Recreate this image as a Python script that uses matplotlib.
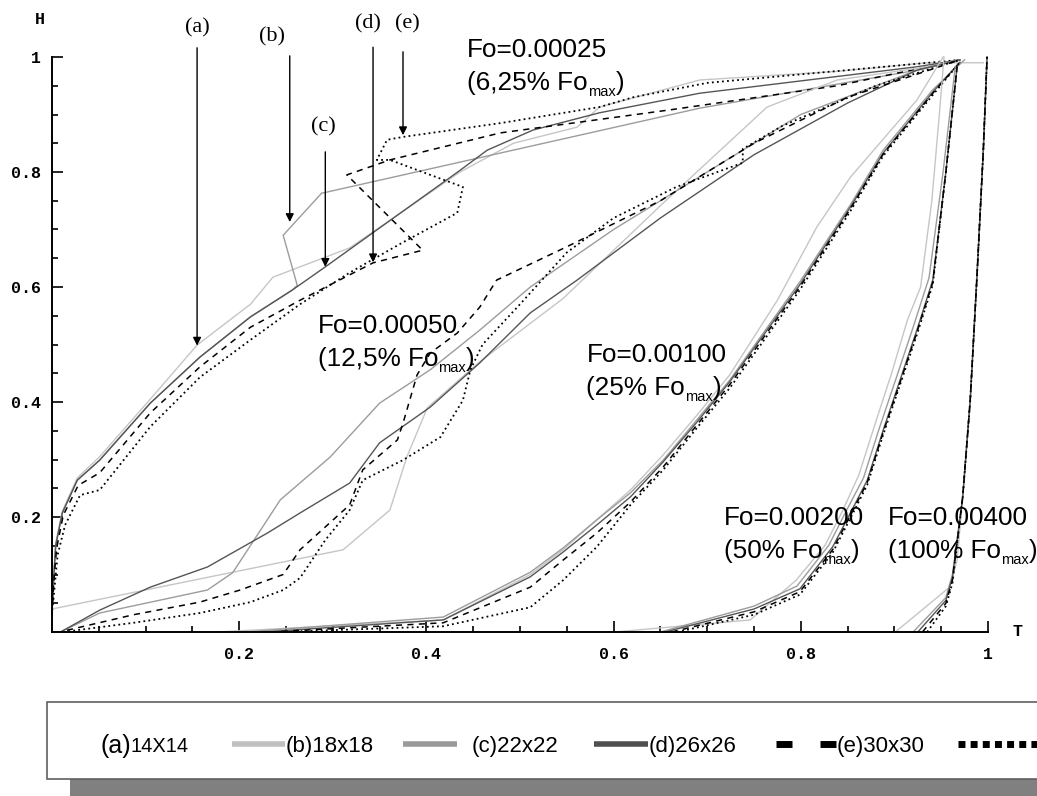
import matplotlib
matplotlib.use("Agg")
import matplotlib.pyplot as plt
from matplotlib.patches import Rectangle

# ---- curves H(T) for each Fourier number, meshes (a)..(e) ----
# Fo = 0.00025
g1_a_t = [0, 0.002, 0.004, 0.011, 0.027, 0.051, 0.105, 0.155, 0.212, 0.236, 0.318, 0.436, 0.493, 0.561, 0.585, 0.692, 0.839, 0.935, 0.995]
g1_a_h = [0.03, 0.10, 0.155, 0.21, 0.268, 0.305, 0.405, 0.499, 0.57, 0.617, 0.668, 0.80, 0.85, 0.878, 0.913, 0.96, 0.975, 0.99, 0.99]
g1_b_t = [0, 0.002, 0.004, 0.011, 0.027, 0.051, 0.105, 0.158, 0.212, 0.257, 0.262, 0.247, 0.288, 0.692, 0.924, 0.97]
g1_b_h = [0.03, 0.099, 0.151, 0.207, 0.264, 0.299, 0.398, 0.478, 0.548, 0.595, 0.603, 0.69, 0.763, 0.911, 0.977, 0.995]
g1_c_t = [0, 0.002, 0.004, 0.011, 0.027, 0.051, 0.105, 0.158, 0.212, 0.257, 0.292, 0.436, 0.465, 0.514, 0.585, 0.692, 0.924, 0.97]
g1_c_h = [0.03, 0.099, 0.151, 0.207, 0.264, 0.299, 0.398, 0.478, 0.548, 0.595, 0.635, 0.803, 0.838, 0.873, 0.903, 0.937, 0.983, 0.995]
g1_d_t = [0, 0.002, 0.005, 0.012, 0.028, 0.051, 0.105, 0.158, 0.212, 0.265, 0.343, 0.396, 0.315, 0.361, 0.479, 0.660, 0.839, 0.97]
g1_d_h = [0.03, 0.09, 0.146, 0.203, 0.255, 0.277, 0.381, 0.461, 0.53, 0.577, 0.642, 0.664, 0.795, 0.821, 0.868, 0.908, 0.95, 0.995]
g1_e_t = [0, 0.003, 0.006, 0.014, 0.030, 0.051, 0.105, 0.158, 0.212, 0.265, 0.318, 0.372, 0.433, 0.439, 0.361, 0.347, 0.358, 0.375, 0.479, 0.585, 0.621, 0.70, 0.97]
g1_e_h = [0.03, 0.082, 0.134, 0.186, 0.238, 0.247, 0.357, 0.443, 0.508, 0.57, 0.625, 0.675, 0.729, 0.774, 0.821, 0.821, 0.856, 0.861, 0.885, 0.913, 0.93, 0.955, 0.995]

# Fo = 0.00050
g2_a_t = [0, 0.311, 0.361, 0.379, 0.401, 0.457, 0.546, 0.653, 0.764, 0.839, 0.935, 0.97]
g2_a_h = [0.04, 0.143, 0.212, 0.304, 0.39, 0.47, 0.58, 0.746, 0.913, 0.96, 0.983, 0.995]
g2_b_t = [0.009, 0.051, 0.166, 0.193, 0.244, 0.297, 0.35, 0.404, 0.457, 0.511, 0.60, 0.70, 0.80, 0.924, 0.97]
g2_b_h = [0, 0.033, 0.073, 0.103, 0.23, 0.304, 0.398, 0.456, 0.525, 0.60, 0.70, 0.80, 0.90, 0.977, 0.995]
g2_c_t = [0.009, 0.051, 0.105, 0.166, 0.230, 0.265, 0.318, 0.350, 0.404, 0.457, 0.511, 0.561, 0.65, 0.75, 0.85, 0.924, 0.97]
g2_c_h = [0, 0.038, 0.078, 0.113, 0.172, 0.207, 0.259, 0.329, 0.391, 0.468, 0.555, 0.612, 0.72, 0.83, 0.92, 0.977, 0.995]
g2_d_t = [0.016, 0.087, 0.158, 0.201, 0.247, 0.265, 0.318, 0.332, 0.369, 0.375, 0.39, 0.404, 0.433, 0.457, 0.475, 0.55, 0.65, 0.75, 0.85, 0.97]
g2_d_h = [0.003, 0.03, 0.052, 0.073, 0.10, 0.143, 0.221, 0.282, 0.334, 0.363, 0.447, 0.485, 0.52, 0.565, 0.612, 0.67, 0.75, 0.85, 0.93, 0.995]
g2_e_t = [0.012, 0.087, 0.158, 0.212, 0.247, 0.265, 0.292, 0.318, 0.332, 0.375, 0.415, 0.439, 0.447, 0.46, 0.50, 0.55, 0.60, 0.667, 0.738, 0.738, 0.78, 0.88, 0.97]
g2_e_h = [0, 0.016, 0.033, 0.052, 0.073, 0.094, 0.16, 0.212, 0.264, 0.299, 0.339, 0.403, 0.456, 0.50, 0.57, 0.66, 0.72, 0.774, 0.816, 0.84, 0.88, 0.95, 0.995]

# Fo = 0.00100
g3_a_t = [0.176, 0.418, 0.511, 0.546, 0.582, 0.618, 0.653, 0.689, 0.724, 0.775, 0.817, 0.853, 0.924, 0.952]
g3_a_h = [0, 0.021, 0.10, 0.143, 0.195, 0.247, 0.308, 0.377, 0.447, 0.577, 0.704, 0.791, 0.925, 1.0]
g3_b_t = [0.206, 0.418, 0.511, 0.546, 0.582, 0.618, 0.653, 0.689, 0.724, 0.799, 0.853, 0.888, 0.941, 0.967, 0.975]
g3_b_h = [0, 0.026, 0.104, 0.146, 0.195, 0.242, 0.299, 0.369, 0.438, 0.609, 0.743, 0.838, 0.943, 0.983, 0.995]
g3_c_t = [0.225, 0.418, 0.511, 0.546, 0.582, 0.618, 0.653, 0.689, 0.724, 0.799, 0.853, 0.888, 0.941, 0.970]
g3_c_h = [0, 0.021, 0.096, 0.139, 0.186, 0.235, 0.296, 0.365, 0.435, 0.604, 0.739, 0.833, 0.939, 0.991]
g3_d_t = [0.233, 0.418, 0.511, 0.546, 0.582, 0.618, 0.653, 0.689, 0.724, 0.799, 0.853, 0.888, 0.941, 0.970]
g3_d_h = [0, 0.016, 0.078, 0.125, 0.172, 0.226, 0.287, 0.360, 0.430, 0.600, 0.736, 0.831, 0.937, 0.991]
g3_e_t = [0.244, 0.418, 0.511, 0.546, 0.582, 0.618, 0.653, 0.689, 0.724, 0.799, 0.853, 0.888, 0.941, 0.970]
g3_e_h = [0, 0.01, 0.043, 0.09, 0.148, 0.221, 0.282, 0.355, 0.424, 0.595, 0.732, 0.828, 0.934, 0.991]

# Fo = 0.00200
g4_a_t = [0.601, 0.746, 0.795, 0.826, 0.845, 0.862, 0.879, 0.897, 0.914, 0.928, 0.940, 0.948, 0.953]
g4_a_h = [0, 0.021, 0.09, 0.151, 0.212, 0.273, 0.36, 0.45, 0.543, 0.60, 0.75, 0.90, 1.0]
g4_b_t = [0.650, 0.750, 0.796, 0.830, 0.849, 0.867, 0.884, 0.902, 0.920, 0.937, 0.952, 0.965]
g4_b_h = [0, 0.045, 0.08, 0.151, 0.212, 0.268, 0.355, 0.442, 0.53, 0.616, 0.80, 0.983]
g4_c_t = [0.655, 0.750, 0.799, 0.834, 0.853, 0.871, 0.888, 0.906, 0.924, 0.941, 0.955, 0.967]
g4_c_h = [0, 0.04, 0.075, 0.148, 0.207, 0.264, 0.351, 0.438, 0.525, 0.612, 0.80, 0.983]
g4_d_t = [0.662, 0.750, 0.799, 0.834, 0.853, 0.871, 0.888, 0.906, 0.924, 0.941, 0.955, 0.967]
g4_d_h = [0, 0.035, 0.070, 0.143, 0.203, 0.260, 0.347, 0.434, 0.521, 0.608, 0.80, 0.983]
g4_e_t = [0.668, 0.750, 0.799, 0.834, 0.853, 0.871, 0.888, 0.906, 0.924, 0.941, 0.955, 0.967]
g4_e_h = [0, 0.03, 0.065, 0.138, 0.198, 0.256, 0.343, 0.43, 0.517, 0.604, 0.80, 0.983]

# Fo = 0.00400
g5_a_t = [0.901, 0.959, 0.967, 0.973, 0.981, 0.988, 0.995, 0.999]
g5_a_h = [0, 0.078, 0.125, 0.235, 0.403, 0.612, 0.838, 1.0]
g5_b_t = [0.920, 0.955, 0.962, 0.973, 0.981, 0.988, 0.995, 0.999]
g5_b_h = [0, 0.06, 0.10, 0.235, 0.403, 0.612, 0.838, 1.0]
g5_c_t = [0.925, 0.955, 0.962, 0.973, 0.981, 0.988, 0.995, 0.999]
g5_c_h = [0, 0.055, 0.095, 0.235, 0.403, 0.612, 0.838, 1.0]
g5_d_t = [0.930, 0.955, 0.962, 0.973, 0.981, 0.988, 0.995, 0.999]
g5_d_h = [0, 0.05, 0.09, 0.235, 0.403, 0.612, 0.838, 1.0]
g5_e_t = [0.935, 0.955, 0.962, 0.973, 0.981, 0.988, 0.995, 0.999]
g5_e_h = [0, 0.045, 0.085, 0.235, 0.403, 0.612, 0.838, 1.0]

fo_values = ["0.00025", "0.00050", "0.00100", "0.00200", "0.00400"]
fo_shares = ["6,25%", "12,5%", "25%", "50%", "100%"]
# left edge and baseline of the first label line for each group
fo_label_pos = [(0.4435, 1.0), (0.284, 0.52), (0.571, 0.47), (0.718, 0.186), (0.893, 0.186)]

mesh_letters = ["(a)", "(b)", "(c)", "(d)", "(e)"]
mesh_names = ["14X14", "18x18", "22x22", "26x26", "30x30"]
# arrow x, tail H, tip H, label position
arrows = [(0.155, 1.016, 0.498, (0.155, 1.05)),
          (0.254, 1.002, 0.713, (0.235, 1.035)),
          (0.292, 0.835, 0.635, (0.29, 0.878)),
          (0.343, 1.017, 0.643, (0.338, 1.057)),
          (0.375, 1.009, 0.864, (0.38, 1.057))]

styles = [dict(color='#c6c6c6', lw=1.0, ls='-'),
          dict(color='#9c9c9c', lw=1.0, ls='-'),
          dict(color='#555555', lw=1.0, ls='-'),
          dict(color='black', lw=1.1, ls=(0, (4, 3.5))),
          dict(color='black', lw=1.3, ls=(0, (1, 1.8)))]

curves = [
    [(g1_a_t, g1_a_h), (g1_b_t, g1_b_h), (g1_c_t, g1_c_h), (g1_d_t, g1_d_h), (g1_e_t, g1_e_h)],
    [(g2_a_t, g2_a_h), (g2_b_t, g2_b_h), (g2_c_t, g2_c_h), (g2_d_t, g2_d_h), (g2_e_t, g2_e_h)],
    [(g3_a_t, g3_a_h), (g3_b_t, g3_b_h), (g3_c_t, g3_c_h), (g3_d_t, g3_d_h), (g3_e_t, g3_e_h)],
    [(g4_a_t, g4_a_h), (g4_b_t, g4_b_h), (g4_c_t, g4_c_h), (g4_d_t, g4_d_h), (g4_e_t, g4_e_h)],
    [(g5_a_t, g5_a_h), (g5_b_t, g5_b_h), (g5_c_t, g5_c_h), (g5_d_t, g5_d_h), (g5_e_t, g5_e_h)],
]

W, H = 1037, 796
fig = plt.figure(figsize=(W / 100, H / 100), dpi=100)
ax = fig.add_axes([52 / W, 164 / H, 936 / W, 575 / H])
ax.set_xlim(0, 1)
ax.set_ylim(0, 1)
renderer = fig.canvas.get_renderer()

for group in curves:
    for (t, h), st in zip(group, styles):
        ax.plot(t, h, clip_on=False, solid_joinstyle='miter', **st)

for sp in ['top', 'right']:
    ax.spines[sp].set_visible(False)
for sp in ['left', 'bottom']:
    ax.spines[sp].set_linewidth(1.4)

mono = dict(family='Liberation Mono', size=12, weight='bold')
ax.set_xticks([0.2, 0.4, 0.6, 0.8, 1.0])
ax.set_xticklabels(['0.2', '0.4', '0.6', '0.8', '1'], **mono)
ax.set_yticks([0.2, 0.4, 0.6, 0.8, 1.0])
ax.set_yticklabels(['0.2', '0.4', '0.6', '0.8', '1'], **mono)
ax.set_xticks([i * 0.05 for i in range(1, 20)], minor=True)
ax.set_yticks([i * 0.05 for i in range(1, 20)], minor=True)
ax.tick_params(which='both', direction='in', width=1.2)
ax.tick_params(which='major', length=8)
ax.tick_params(which='minor', length=4)
ax.tick_params(axis='x', pad=11)
ax.tick_params(axis='y', pad=8)

ax.text(-0.013, 1.065, "H", ha='center', va='center', family='Liberation Mono', size=12, weight='bold')
ax.text(1.031, 0.0, "T", ha='center', va='center', family='Liberation Mono', size=12, weight='bold')


def put_after(prev, s, dy, size):
    # place a text piece right after the previous one, dy in axis units
    bb = prev.get_window_extent(renderer)
    x = ax.transData.inverted().transform((bb.x1, bb.y0))[0]
    y = prev.get_position()[1] + dy
    return ax.text(x, y, s, family='Liberation Sans', size=size, ha='left', va='baseline')


big = 18.8
for fo, share, (x, y) in zip(fo_values, fo_shares, fo_label_pos):
    ax.text(x, y, "Fo=" + fo, family='Liberation Sans', size=big, ha='left', va='baseline')
    t1 = ax.text(x, y - 0.057, "(" + share + " Fo", family='Liberation Sans', size=big,
                 ha='left', va='baseline')
    t2 = put_after(t1, "max", -0.011, 10.5)
    put_after(t2, ")", 0.011, big)

for (x, y0, y1, lpos), letter in zip(arrows, mesh_letters):
    ax.annotate("", xy=(x, y1), xytext=(x, y0), annotation_clip=False,
                arrowprops=dict(arrowstyle='-|>', color='black', lw=1.0,
                                mutation_scale=12, shrinkA=0, shrinkB=0))
    ax.text(lpos[0], lpos[1], letter, family='Liberation Serif', size=16,
            ha='center', va='center', clip_on=False)

# legend panel drawn in pixel space
lg = fig.add_axes([0, 0, 1, 1])
lg.set_xlim(0, W)
lg.set_ylim(H, 0)
lg.axis('off')
lg.add_patch(Rectangle((70, 779), W, 20, facecolor='#808080', edgecolor='none'))
lg.add_patch(Rectangle((47, 702), W, 77, facecolor='white', edgecolor='#606060', lw=1.2))

sans = 'Liberation Sans'
base = 752
ly = 744
lg.text(100, base + 1, mesh_letters[0], family=sans, size=18, va='baseline', ha='left')
lg.text(130, base, mesh_names[0], family=sans, size=14.5, va='baseline', ha='left')
lg.plot([232, 285], [ly, ly], color='#c0c0c0', lw=4, solid_capstyle='butt')
lg.text(286, base, mesh_letters[1] + mesh_names[1], family=sans, size=16, va='baseline', ha='left')
lg.plot([403, 457], [ly, ly], color='#9a9a9a', lw=4, solid_capstyle='butt')
lg.text(472, base, mesh_letters[2] + mesh_names[2], family=sans, size=16, va='baseline', ha='left')
lg.plot([594, 648], [ly, ly], color='#505050', lw=4, solid_capstyle='butt')
lg.text(649, base, mesh_letters[3] + mesh_names[3], family=sans, size=16, va='baseline', ha='left')
for x0 in (776, 820):
    lg.plot([x0, x0 + 16], [ly, ly], color='black', lw=5, solid_capstyle='butt')
lg.text(837, base, mesh_letters[4] + mesh_names[4], family=sans, size=16, va='baseline', ha='left')
lg.plot([958, 1037], [ly, ly], color='black', lw=5, ls=(0, (1, 0.75)), solid_capstyle='butt')

fig.savefig("out.png", dpi=100)
